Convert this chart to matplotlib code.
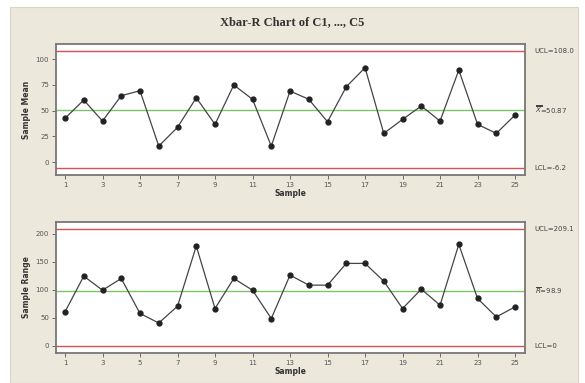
import numpy as np
import matplotlib.pyplot as plt
from matplotlib.patches import Rectangle

# Xbar-R chart, subgroups of 5 (C1..C5)
sample = np.arange(1, 26)
means = [42.4, 60.2, 39.8, 64.4, 69.2, 15.5, 33.7, 62.4, 36.6, 74.8, 60.9, 15.5, 68.9,
         60.9, 39.1, 73.1, 91.6, 27.8, 41.4, 54.4, 39.8, 89.3, 36.6, 27.8, 45.6]
ranges = [60.8, 124.7, 99.6, 120.5, 58.0, 41.1, 71.0, 178.4, 66.9, 120.5, 99.6, 49.0, 126.5,
          108.6, 108.6, 147.4, 147.4, 115.7, 66.9, 101.4, 72.8, 181.4, 84.8, 51.9, 69.8]
xticks = list(range(1, 26, 2))

# control chart constants for n=5
A2 = 0.577
D3 = 0.0
D4 = 2.114

xbar = np.mean(means)
rbar = np.mean(ranges)
x_ucl = xbar + A2 * rbar
x_lcl = xbar - A2 * rbar
r_ucl = D4 * rbar
r_lcl = D3 * rbar

fig = plt.figure(figsize=(5.85, 3.83), dpi=100, facecolor='white')
# beige panel behind the charts
fig.patches.append(Rectangle((10/585, 0), 568/585, 1 - 7/383, transform=fig.transFigure,
                             facecolor='#ece8dc', edgecolor='#d8d4c8', lw=0.8, zorder=-1))

fig.text(0.5, 1 - 22/383, 'Xbar-R Chart of C1, ..., C5', ha='center', va='center',
         fontsize=9, fontweight='bold', family='Liberation Serif', color='#333333')

ax1 = fig.add_axes([56/585, 1 - 175/383, 469/585, 131/383])
ax2 = fig.add_axes([56/585, 1 - 353/383, 469/585, 131/383])

panels = [
    (ax1, means, xbar, x_ucl, x_lcl, 'Sample Mean', (-12.6, 114.6), [0, 25, 50, 75, 100],
     ['UCL=%.1f' % x_ucl, '$\\overline{\\overline{X}}$=%.2f' % xbar, 'LCL=%.1f' % x_lcl]),
    (ax2, ranges, rbar, r_ucl, r_lcl, 'Sample Range', (-12.5, 221.3), [0, 50, 100, 150, 200],
     ['UCL=%.1f' % r_ucl, '$\\overline{R}$=%.1f' % rbar, 'LCL=%d' % r_lcl]),
]

for ax, vals, cl, ucl, lcl, ylab, ylim, yt, labels in panels:
    ax.set_facecolor('white')
    ax.axhline(ucl, color='#d85050', lw=1.0, zorder=1)
    ax.axhline(lcl, color='#d85050', lw=1.0, zorder=1)
    ax.axhline(cl, color='#7cc46a', lw=1.0, zorder=1)
    ax.plot(sample, vals, color='#444444', lw=0.9, marker='o', markersize=3.5,
            markerfacecolor='#222222', markeredgecolor='#222222', zorder=3)
    ax.set_xlim(0.52, 25.53)
    ax.set_ylim(*ylim)
    ax.set_xticks(xticks)
    ax.set_yticks(yt)
    ax.tick_params(labelsize=5, length=3, width=0.6, colors='#555555', pad=2)
    for s in ax.spines.values():
        s.set_color('#777777')
        s.set_linewidth(1.3)
    ax.set_xlabel('Sample', fontsize=5.5, fontweight='bold', labelpad=1, color='#333333')
    ax.set_ylabel(ylab, fontsize=5.5, fontweight='bold', labelpad=3, color='#333333')
    for v, t in zip([ucl, cl, lcl], labels):
        ax.annotate(t, xy=(1.0, v), xycoords=('axes fraction', 'data'), xytext=(7, 0),
                    textcoords='offset points', fontsize=5, va='center', ha='left',
                    color='#444444', annotation_clip=False)

plt.savefig('out.png', dpi=100, facecolor=fig.get_facecolor())
